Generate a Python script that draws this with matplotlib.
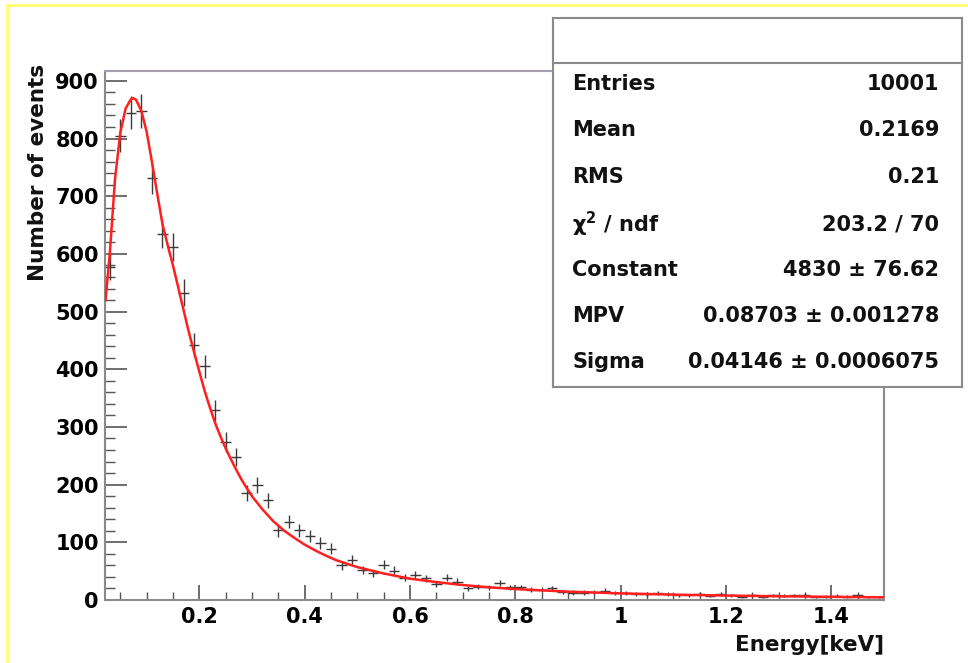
import matplotlib
matplotlib.use("Agg")
import numpy as np
import matplotlib.pyplot as plt
from matplotlib.lines import Line2D

# histogram: 74 bins from 0.02 to 1.5 keV
x_lo, x_hi, n_bins = 0.02, 1.5, 74
counts = [578, 805, 845, 848, 731, 635, 612, 533, 442, 405,
          329, 274, 248, 185, 199, 173, 121, 136, 121, 111,
          99, 89, 60, 70, 52, 46, 61, 51, 39, 43,
          38, 28, 39, 32, 20, 23, 22, 29, 22, 22,
          18, 18, 20, 14, 13, 13, 14, 16, 12, 12,
          11, 11, 12, 11, 8, 8, 10, 7, 10, 8,
          6, 8, 6, 8, 7, 8, 9, 5, 6, 7,
          6, 8, 5, 5]

# Landau fit curve
fit_x = [0.022, 0.030, 0.040, 0.050, 0.060, 0.070, 0.075, 0.080, 0.090, 0.100,
         0.110, 0.120, 0.130, 0.140, 0.150, 0.160, 0.170, 0.180, 0.190, 0.200,
         0.210, 0.220, 0.230, 0.240, 0.250, 0.260, 0.270, 0.280, 0.290, 0.300,
         0.320, 0.340, 0.360, 0.380, 0.400, 0.420, 0.440, 0.460, 0.500, 0.550,
         0.600, 0.650, 0.700, 0.750, 0.800, 0.900, 1.000, 1.100, 1.200, 1.300,
         1.400, 1.500]
fit_y = [520, 600, 730, 810, 852, 868, 870, 867, 848, 812,
         760, 705, 652, 615, 580, 542, 503, 465, 430, 396,
         363, 334, 307, 284, 263, 244, 226, 209, 194, 180,
         157, 137, 121, 108, 96, 86, 77, 69, 57, 46,
         37, 31, 26, 22, 19, 14.5, 11.5, 9.3, 7.7, 6.5,
         5.5, 4.7]

stat_labels = ["Entries", "Mean", "RMS", r"$\chi^{2}$ / ndf", "Constant", "MPV", "Sigma"]
stat_values = ["10001", "0.2169", "0.21", "203.2 / 70", "4830 \u00b1 76.62",
               "0.08703 \u00b1 0.001278", "0.04146 \u00b1 0.0006075"]

x_ticks = [0.2, 0.4, 0.6, 0.8, 1.0, 1.2, 1.4]
x_tick_labels = ["0.2", "0.4", "0.6", "0.8", "1", "1.2", "1.4"]
y_ticks = [0, 100, 200, 300, 400, 500, 600, 700, 800, 900]

plt.rcParams['font.family'] = ['DejaVu Sans']
plt.rcParams['font.weight'] = 'bold'
plt.rcParams['mathtext.default'] = 'regular'

W, H = 968, 663
fig = plt.figure(figsize=(W / 100, H / 100), dpi=100)

# yellow canvas border (top and left)
fig.add_artist(Line2D([7 / W, 1], [1 - 5 / H, 1 - 5 / H], color='#ffff70', lw=2))
fig.add_artist(Line2D([7 / W, 7 / W], [0, 1 - 5 / H], color='#ffff70', lw=2))

ax = fig.add_axes([104.5 / W, 1 - 600 / H, (884 - 104.5) / W, (600 - 70.5) / H])

counts = np.array(counts, dtype=float)
width = (x_hi - x_lo) / n_bins
centers = x_lo + width * (np.arange(n_bins) + 0.5)
ax.errorbar(centers, counts, yerr=np.sqrt(counts), xerr=width / 2, fmt='none',
            ecolor='#3a3a3a', elinewidth=1.0, capsize=0, zorder=2)
ax.plot(fit_x, fit_y, color='#ff1f1f', lw=1.8, zorder=3)

ax.set_xlim(x_lo, x_hi)
ax.set_ylim(0, 918)

ax.set_xticks(x_ticks)
ax.set_xticklabels(x_tick_labels)
ax.set_xticks(np.arange(0.05, 1.5, 0.05), minor=True)
ax.set_yticks(y_ticks)
ax.set_yticks(np.arange(0, 918, 20), minor=True)

ax.tick_params(axis='both', which='both', direction='in', color='#555555',
               top=False, right=False, labelsize=15)
ax.tick_params(axis='x', which='major', length=11, width=1.2, pad=5)
ax.tick_params(axis='x', which='minor', length=6, width=1.0)
ax.tick_params(axis='y', which='major', length=16, width=1.2, pad=4)
ax.tick_params(axis='y', which='minor', length=7, width=1.0)
for lbl in ax.get_xticklabels() + ax.get_yticklabels():
    lbl.set_fontweight('bold')

for side in ['left', 'right', 'top', 'bottom']:
    ax.spines[side].set_color('#8a8a8a')
    ax.spines[side].set_linewidth(1.5)
ax.spines['top'].set_color('#a79fb0')

fig.text(38 / W, 1 - 64 / H, "Number of events", rotation=90, ha='center', va='top',
         fontsize=15.5, fontweight='bold', color='#111111')
fig.text(884 / W, 1 - 645 / H, "Energy[keV]", ha='right', va='center',
         fontsize=15.5, fontweight='bold', color='#111111')

# stats box
box = fig.add_axes([553 / W, 1 - 387 / H, (962 - 553) / W, (387 - 18) / H], zorder=5)
box.set_xlim(0, 962 - 553)
box.set_ylim(387, 18)
box.set_xticks([])
box.set_yticks([])
for side in ['left', 'right', 'top', 'bottom']:
    box.spines[side].set_color('#8a8a8a')
    box.spines[side].set_linewidth(1.5)
box.axhline(63, color='#8a8a8a', lw=1.5)

row_y = [84, 130, 177, 224, 270, 316, 362]
for yy, lab, val in zip(row_y, stat_labels, stat_values):
    box.text(572 - 553, yy, lab, ha='left', va='center', fontsize=15,
             fontweight='bold', color='#111111')
    box.text(939 - 553, yy, val, ha='right', va='center', fontsize=15,
             fontweight='bold', color='#111111')

fig.savefig("out.png", dpi=100)
